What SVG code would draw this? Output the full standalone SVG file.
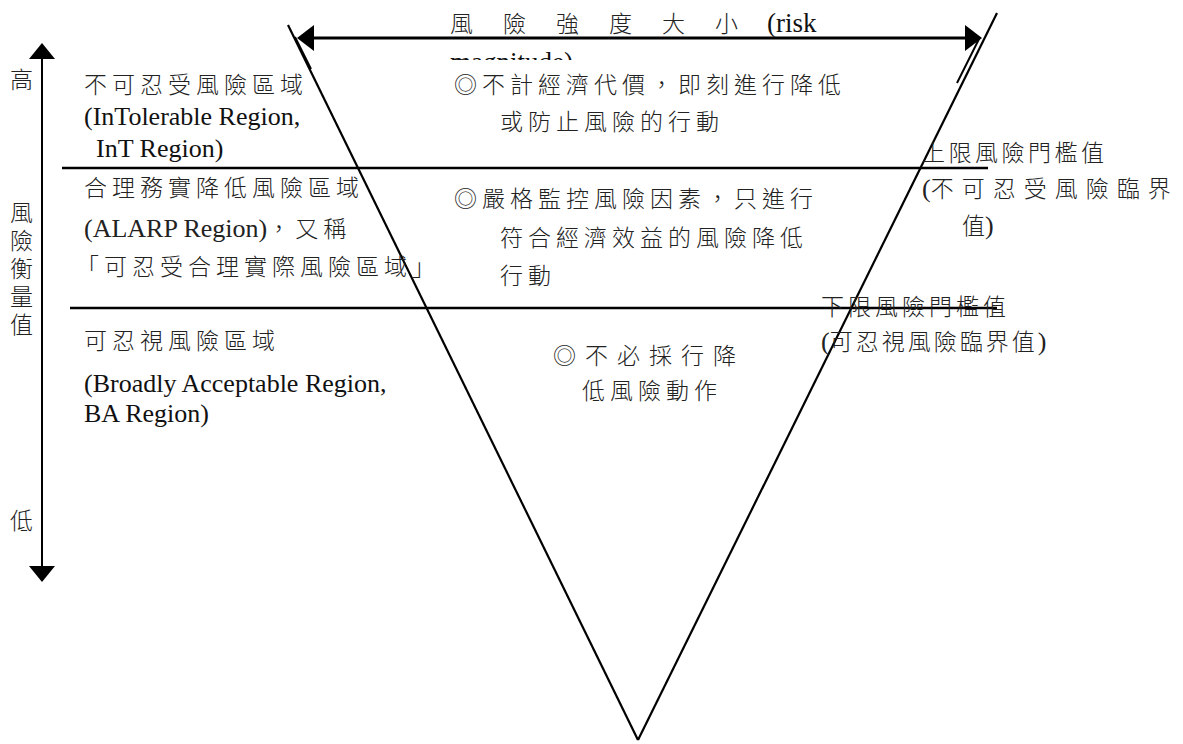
<svg xmlns="http://www.w3.org/2000/svg" width="1183" height="744" viewBox="0 0 1183 744">
<style>
.cjk{font-family:"Noto Sans CJK TC",sans-serif;font-size:23px;font-weight:300;letter-spacing:5px;fill:#222}
.mix{font-family:"Liberation Serif","DejaVu Serif",serif;font-size:26px;fill:#111}
.ser{font-family:"Liberation Serif","DejaVu Serif",serif;font-size:26px;font-weight:400;letter-spacing:0}
.ln{stroke:#000;fill:none}
</style>
<defs>
<clipPath id="clipTop"><rect x="0" y="0" width="1183" height="60"/></clipPath>
</defs>
<rect width="1183" height="744" fill="#fff"/>
<g id="connectors">
<line class="ln" x1="288" y1="25" x2="638" y2="740" stroke-width="2.2"/>
<line class="ln" x1="997" y1="13" x2="638" y2="740" stroke-width="2.2"/>
<line class="ln" x1="295" y1="37" x2="311" y2="69" stroke-width="2"/>
<line class="ln" x1="980" y1="37" x2="957" y2="83" stroke-width="2"/>
<line class="ln" x1="305" y1="38" x2="972" y2="38" stroke-width="3"/>
<polygon points="297,38 314,25 314,51" fill="#000"/>
<polygon points="982,38 965,25 965,51" fill="#000"/>
<line class="ln" x1="42" y1="55" x2="42" y2="570" stroke-width="2"/>
<polygon points="42,43 29,59 55,59" fill="#000"/>
<polygon points="42,582 29,566 55,566" fill="#000"/>
<line class="ln" x1="62" y1="168" x2="988" y2="168" stroke-width="2.5"/>
<line class="ln" x1="70" y1="308" x2="997" y2="308" stroke-width="2.5"/>
</g>
<g id="title">
<text class="cjk" y="32" style="letter-spacing:0"><tspan x="450">風</tspan><tspan x="503">險</tspan><tspan x="556">強</tspan><tspan x="609">度</tspan><tspan x="662">大</tspan><tspan x="715">小</tspan></text>
<text class="mix" x="767" y="32" style="font-size:27px">(risk</text>
<text class="mix" x="450" y="71" style="font-size:27px" clip-path="url(#clipTop)">magnitude)</text>
</g>
<g id="axis-labels">
<text class="cjk" x="10" y="88" style="letter-spacing:0">高</text>
<text class="cjk" style="letter-spacing:0"><tspan x="10" y="221">風</tspan><tspan x="10" y="249">險</tspan><tspan x="10" y="277">衡</tspan><tspan x="10" y="305">量</tspan><tspan x="10" y="333">值</tspan></text>
<text class="cjk" x="10" y="529" style="letter-spacing:0">低</text>
</g>
<g id="region-intolerable">
<text class="cjk" x="84" y="93">不可忍受風險區域</text>
<text class="mix" x="84" y="125">(InTolerable Region,</text>
<text class="mix" x="96" y="157">InT Region)</text>
<text class="cjk" x="454" y="93">◎不計經濟代價，即刻進行降低</text>
<text class="cjk" x="500" y="130">或防止風險的行動</text>
</g>
<g id="region-alarp">
<text class="cjk" x="84" y="196">合理務實降低風險區域</text>
<text class="cjk" x="84" y="237"><tspan class="ser">(ALARP Region)</tspan>，又稱</text>
<text class="cjk" x="76" y="275">「可忍受合理實際風險區域」</text>
<text class="cjk" x="454" y="207">◎嚴格監控風險因素，只進行</text>
<text class="cjk" x="500" y="246">符合經濟效益的風險降低</text>
<text class="cjk" x="500" y="284">行動</text>
</g>
<g id="region-ba">
<text class="cjk" x="84" y="349">可忍視風險區域</text>
<text class="mix" x="84" y="392">(Broadly Acceptable Region,</text>
<text class="mix" x="84" y="422">BA Region)</text>
<text class="cjk" x="553" y="364" style="letter-spacing:9px">◎不必採行降</text>
<text class="cjk" x="582" y="399">低風險動作</text>
</g>
<g id="upper-threshold">
<text class="cjk" x="922" y="161" style="letter-spacing:3.5px">上限風險門檻值</text>
<text class="cjk" x="922" y="197" style="letter-spacing:8px"><tspan class="ser">(</tspan>不可忍受風險臨界</text>
<text class="cjk" x="962" y="234" style="letter-spacing:0">值<tspan class="ser">)</tspan></text>
</g>
<g id="lower-threshold">
<text class="cjk" x="821" y="315" style="letter-spacing:4px">下限風險門檻值</text>
<text class="cjk" x="821" y="350" style="letter-spacing:3px"><tspan class="ser">(</tspan>可忍視風險臨界值<tspan class="ser">)</tspan></text>
</g>
</svg>
